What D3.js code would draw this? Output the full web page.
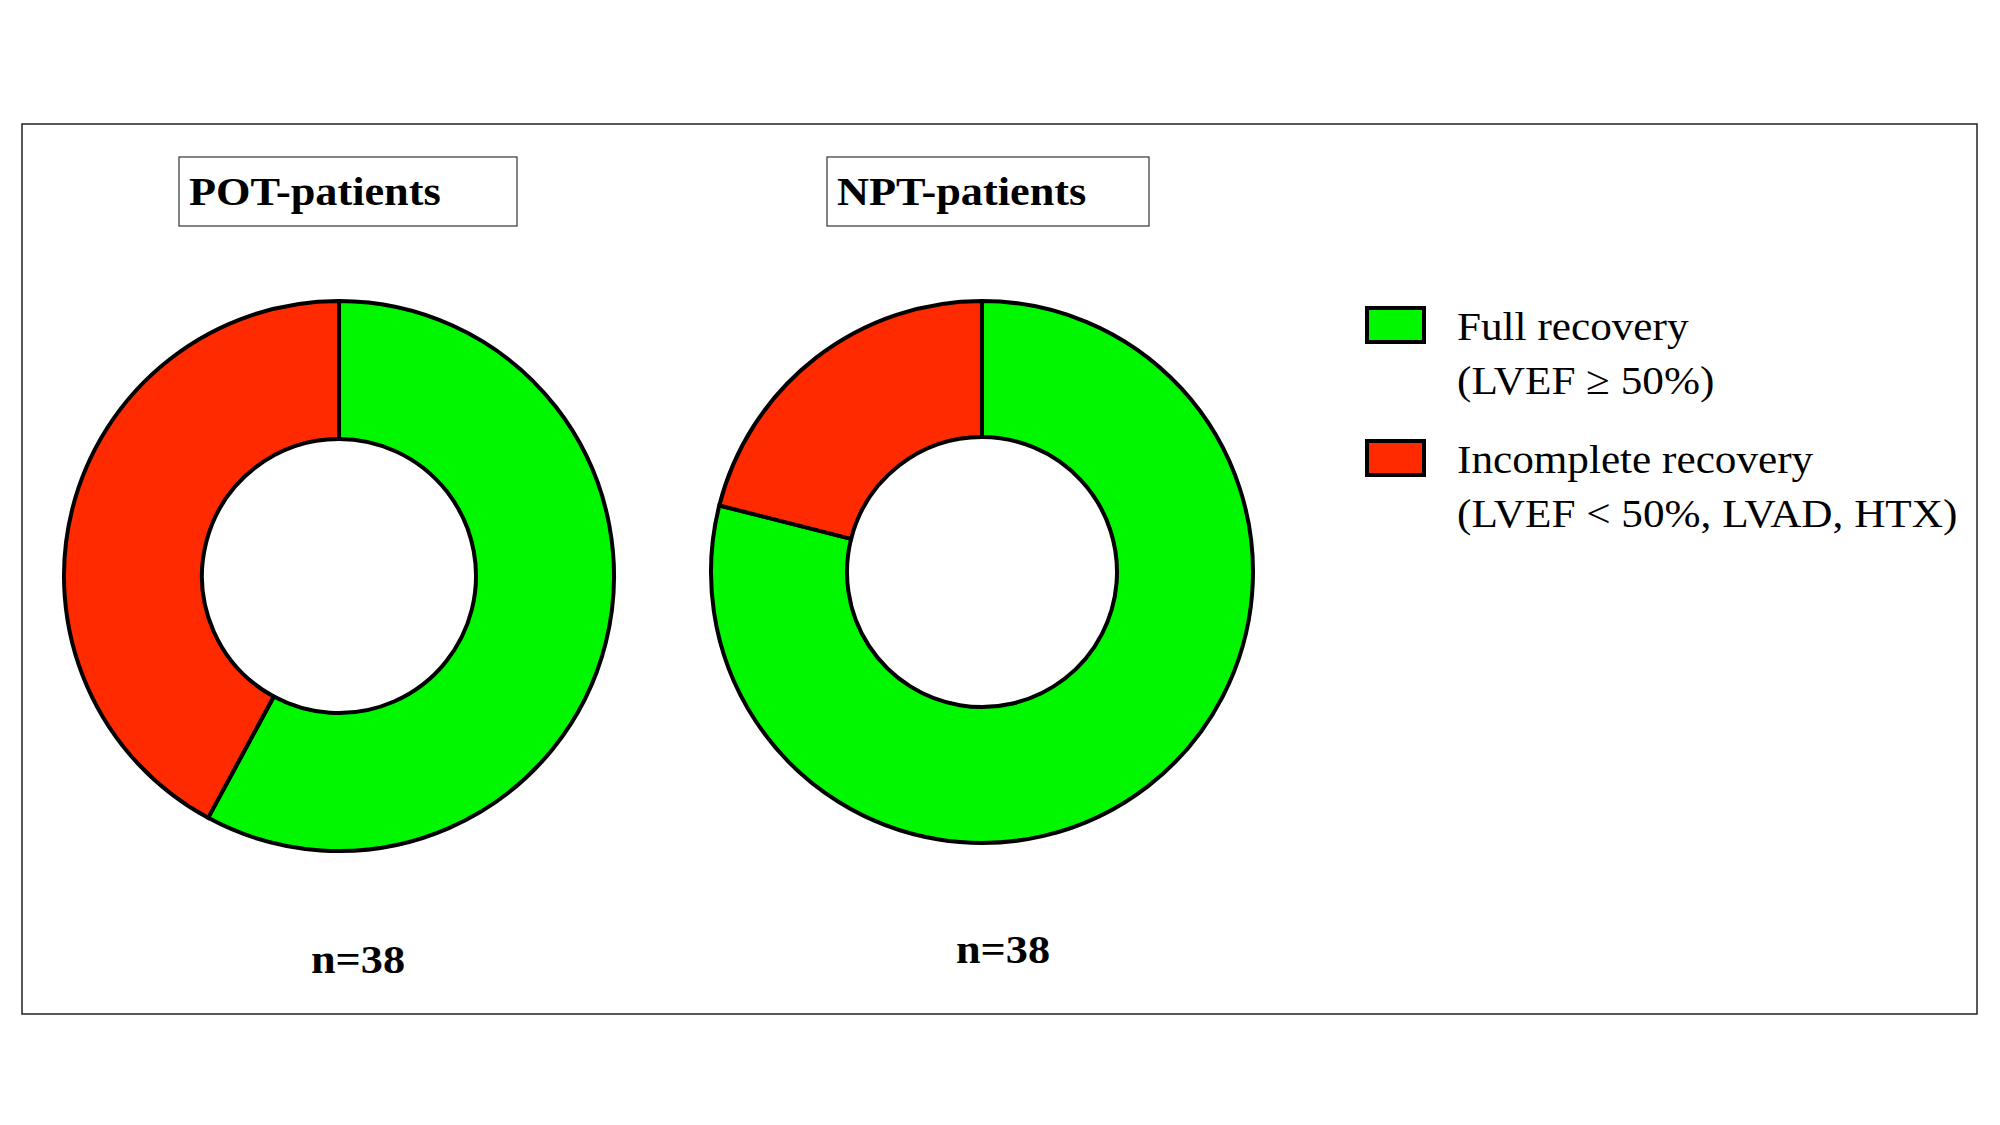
<!DOCTYPE html>
<html lang="en">
<head>
  <meta charset="UTF-8">
  <title>Recovery in POT vs NPT patients</title>
  <script src="https://d3js.org/d3.v7.min.js"></script>
  <style>
    body {
      margin: 0;
      padding: 0;
      background: #fff;
    }
    text {
      font-family: "Liberation Serif", "Times New Roman", serif;
    }
  </style>
</head>
<body>
  <div id="chart"></div>

  <script>
    // data (patients per outcome)
    const groups = ["POT-patients", "NPT-patients"];
    const outcomes = ["Full recovery", "Incomplete recovery"];
    const outcomeNotes = ["(LVEF \u2265 50%)", "(LVEF < 50%, LVAD, HTX)"];
    const potCounts = [22, 16];
    const nptCounts = [30, 8];
    const nLabels = ["n=38", "n=38"];
    const colors = ["#00f700", "#ff2a00"];

    const width = 2000;
    const height = 1125;
    const stretch = 1.08; // the original text is a bit wider than plain Times

    const svg = d3.select("#chart")
      .append("svg")
      .attr("width", width)
      .attr("height", height);

    // helper: text placed at x,y and widened a little
    function label(parent, x, y, str, size, bold, anchor) {
      return parent.append("text")
        .attr("transform", `translate(${x},${y}) scale(${stretch},1)`)
        .attr("font-size", size)
        .attr("font-weight", bold ? "bold" : "normal")
        .attr("text-anchor", anchor || "start")
        .text(str);
    }

    // outer frame
    svg.append("rect")
      .attr("x", 22).attr("y", 124)
      .attr("width", 1955).attr("height", 890)
      .attr("fill", "none")
      .attr("stroke", "#222")
      .attr("stroke-width", 1.5);

    // one entry per donut
    const panels = [
      { name: groups[0], counts: potCounts, n: nLabels[0], cx: 339, cy: 576, r: 275, ri: 137,
        box: [179, 157, 338, 69], nx: 358, ny: 973 },
      { name: groups[1], counts: nptCounts, n: nLabels[1], cx: 982, cy: 572, r: 271, ri: 135,
        box: [827, 157, 322, 69], nx: 1003, ny: 963 }
    ];

    const pie = d3.pie().sort(null).value(d => d);

    panels.forEach(p => {
      // title box
      svg.append("rect")
        .attr("x", p.box[0]).attr("y", p.box[1])
        .attr("width", p.box[2]).attr("height", p.box[3])
        .attr("fill", "none")
        .attr("stroke", "#333")
        .attr("stroke-width", 1.2);

      label(svg, p.box[0] + 10, p.box[1] + 48, p.name, 41, true);

      const arc = d3.arc().innerRadius(p.ri).outerRadius(p.r);

      svg.append("g")
        .attr("transform", `translate(${p.cx},${p.cy})`)
        .selectAll("path")
        .data(pie(p.counts))
        .join("path")
        .attr("d", arc)
        .attr("fill", (d, i) => colors[i])
        .attr("stroke", "#000")
        .attr("stroke-width", 4);

      label(svg, p.nx, p.ny, p.n, 41, true, "middle");
    });

    // legend
    const legend = svg.append("g").attr("transform", "translate(1365,306)");
    outcomes.forEach((o, i) => {
      const g = legend.append("g").attr("transform", `translate(0,${i * 133})`);
      g.append("rect")
        .attr("x", 2).attr("y", 2)
        .attr("width", 57).attr("height", 34)
        .attr("fill", colors[i])
        .attr("stroke", "#000")
        .attr("stroke-width", 4);
      label(g, 92, 34, o, 40, false);
      label(g, 92, 88, outcomeNotes[i], 40, false);
    });
  </script>
</body>
</html>
